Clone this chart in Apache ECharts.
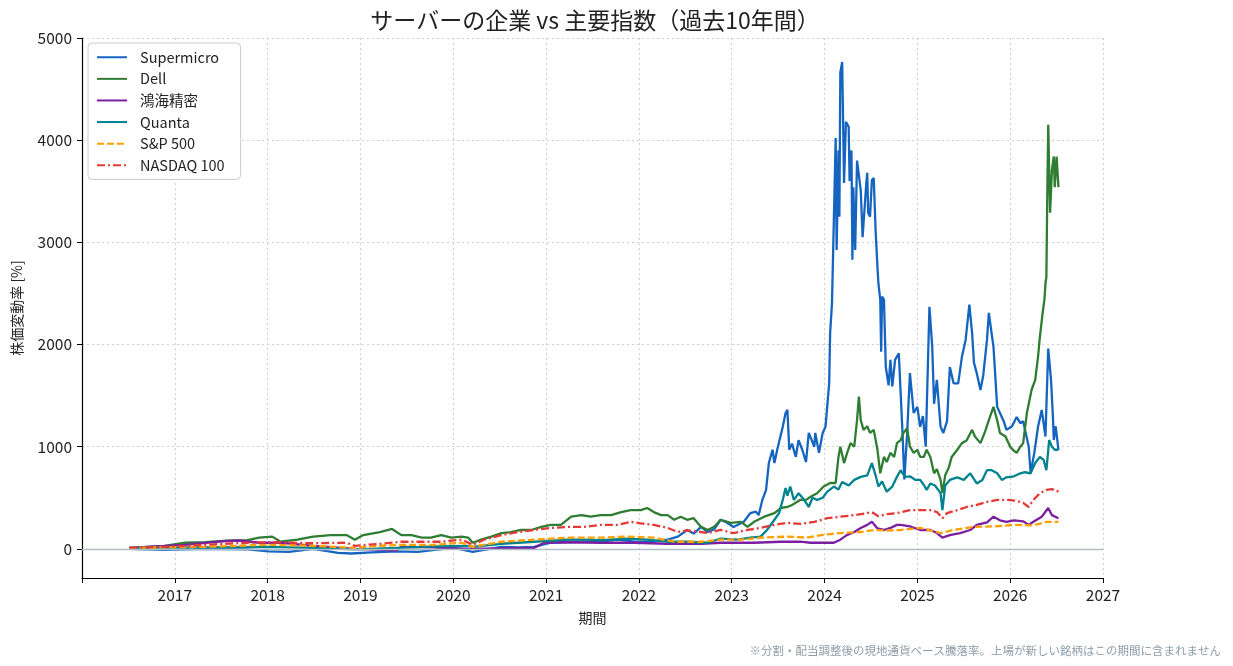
<!DOCTYPE html>
<html><head><meta charset="utf-8">
<script src="https://cdn.jsdelivr.net/npm/echarts@6/dist/echarts.min.js"></script>
<style>html,body{margin:0;padding:0;background:#fff}#c{width:1233px;height:666px}</style>
</head><body><div id="c"></div>
<script>
const seriesNames = ['Supermicro','Dell','鴻海精密','Quanta','S&P 500','NASDAQ 100'];
const xTicks = [2016,2017,2018,2019,2020,2021,2022,2023,2024,2025,2026,2027];
const yTicks = [0,1000,2000,3000,4000,5000];

const supermicro = [[2016.51,0],[2016.89,-10],[2017.33,0],[2017.78,-5],[2018.01,-25],[2018.23,-30],[2018.49,0],[2018.76,-40],[2018.90,-45],[2019.12,-35],[2019.39,-25],[2019.62,-30],[2019.80,-10],[2020.01,10],[2020.21,-30],[2020.33,-10],[2020.52,20],[2020.70,15],[2020.87,20],[2021.05,60],[2021.23,70],[2021.41,70],[2021.59,70],[2021.77,90],[2021.95,70],[2022.13,70],[2022.31,90],[2022.42,120],[2022.52,185],[2022.59,150],[2022.67,215],[2022.74,165],[2022.81,190],[2022.88,285],[2022.95,255],[2023.02,215],[2023.13,265],[2023.20,350],[2023.26,365],[2023.29,330],[2023.33,480],[2023.37,577],[2023.40,840],[2023.44,970],[2023.46,840],[2023.49,970],[2023.55,1195],[2023.58,1330],[2023.60,1360],[2023.62,970],[2023.65,1030],[2023.69,900],[2023.72,1065],[2023.76,970],[2023.80,850],[2023.83,1135],[2023.89,1000],[2023.90,1135],[2023.94,940],[2023.98,1135],[2024.01,1195],[2024.05,1620],[2024.06,2110],[2024.08,2400],[2024.12,4020],[2024.13,2925],[2024.15,3900],[2024.16,3250],[2024.17,4660],[2024.19,4765],[2024.21,3580],[2024.23,4180],[2024.26,4130],[2024.27,3600],[2024.29,3900],[2024.30,2830],[2024.31,3540],[2024.33,2925],[2024.35,3800],[2024.37,3800],[2024.39,3510],[2024.41,3050],[2024.43,3050],[2024.45,3580],[2024.46,3680],[2024.47,3290],[2024.49,3250],[2024.51,3610],[2024.53,3630],[2024.55,3120],[2024.57,2760],[2024.58,2600],[2024.60,2440],[2024.61,1930],[2024.62,2470],[2024.64,2440],[2024.66,1780],[2024.69,1600],[2024.71,1850],[2024.73,1590],[2024.76,1850],[2024.80,1915],[2024.82,1915],[2024.84,1135],[2024.86,680],[2024.89,1135],[2024.92,1720],[2024.96,1330],[2025.00,1390],[2025.03,1195],[2025.06,1300],[2025.09,1000],[2025.13,2370],[2025.16,1980],[2025.18,1420],[2025.21,1655],[2025.25,1195],[2025.28,1135],[2025.32,1250],[2025.35,1780],[2025.39,1620],[2025.44,1620],[2025.48,1880],[2025.52,2045],[2025.56,2390],[2025.59,2110],[2025.61,1820],[2025.64,1720],[2025.68,1555],[2025.71,1700],[2025.75,2045],[2025.77,2310],[2025.80,2110],[2025.82,1980],[2025.86,1390],[2025.89,1330],[2025.93,1250],[2025.96,1165],[2026.02,1200],[2026.07,1290],[2026.11,1230],[2026.14,1250],[2026.20,1000],[2026.22,740],[2026.26,940],[2026.30,1195],[2026.34,1360],[2026.38,1100],[2026.41,1960],[2026.44,1655],[2026.46,1300],[2026.47,1065],[2026.49,1200],[2026.52,970]];

const dell = [[2016.51,10],[2016.89,30],[2017.11,60],[2017.33,65],[2017.56,80],[2017.78,85],[2017.91,110],[2018.05,120],[2018.14,70],[2018.32,90],[2018.49,120],[2018.68,135],[2018.85,135],[2018.94,90],[2019.03,135],[2019.21,165],[2019.34,195],[2019.44,135],[2019.55,135],[2019.66,110],[2019.76,110],[2019.87,135],[2019.98,110],[2020.09,120],[2020.16,110],[2020.21,60],[2020.30,90],[2020.41,120],[2020.52,155],[2020.62,165],[2020.73,185],[2020.84,185],[2020.95,215],[2021.05,235],[2021.16,235],[2021.27,315],[2021.38,330],[2021.48,315],[2021.59,330],[2021.70,330],[2021.81,360],[2021.91,380],[2022.02,380],[2022.09,400],[2022.16,360],[2022.24,330],[2022.31,330],[2022.38,285],[2022.45,315],[2022.52,285],[2022.59,300],[2022.67,215],[2022.74,185],[2022.81,215],[2022.88,285],[2022.99,255],[2023.10,265],[2023.17,215],[2023.24,265],[2023.35,315],[2023.46,350],[2023.53,400],[2023.60,410],[2023.65,430],[2023.74,480],[2023.80,480],[2023.85,510],[2023.92,545],[2023.99,610],[2024.06,645],[2024.12,645],[2024.15,900],[2024.17,1000],[2024.21,840],[2024.24,930],[2024.28,1035],[2024.32,1000],[2024.35,1260],[2024.37,1490],[2024.39,1260],[2024.42,1165],[2024.46,1200],[2024.49,1135],[2024.53,1165],[2024.57,970],[2024.60,740],[2024.64,900],[2024.67,850],[2024.71,940],[2024.75,900],[2024.78,1035],[2024.82,1065],[2024.85,1135],[2024.89,1180],[2024.92,1000],[2024.96,940],[2025.00,970],[2025.03,900],[2025.07,900],[2025.10,970],[2025.14,900],[2025.18,740],[2025.21,780],[2025.25,675],[2025.27,545],[2025.30,720],[2025.34,800],[2025.37,900],[2025.43,970],[2025.48,1035],[2025.53,1060],[2025.59,1165],[2025.62,1100],[2025.68,1035],[2025.73,1150],[2025.77,1260],[2025.82,1390],[2025.86,1260],[2025.89,1135],[2025.95,1100],[2026.00,1000],[2026.04,960],[2026.07,940],[2026.11,1000],[2026.14,1035],[2026.18,1330],[2026.23,1555],[2026.27,1655],[2026.30,1880],[2026.32,2075],[2026.35,2310],[2026.37,2450],[2026.38,2600],[2026.39,2660],[2026.40,3480],[2026.41,4150],[2026.43,3290],[2026.45,3710],[2026.47,3840],[2026.48,3540],[2026.50,3840],[2026.52,3540]];

const foxconn = [[2016.51,10],[2017.11,40],[2017.47,72],[2017.69,82],[2017.91,60],[2018.14,60],[2018.49,30],[2018.94,0],[2019.39,-15],[2019.44,20],[2019.80,15],[2020.16,0],[2020.52,5],[2020.87,10],[2020.98,60],[2021.23,65],[2021.59,60],[2021.95,60],[2022.31,50],[2022.67,50],[2022.88,60],[2023.24,60],[2023.53,70],[2023.74,70],[2023.85,60],[2024.10,60],[2024.17,90],[2024.24,135],[2024.32,165],[2024.39,205],[2024.46,235],[2024.51,265],[2024.57,200],[2024.64,185],[2024.71,205],[2024.78,235],[2024.82,235],[2024.92,220],[2025.03,185],[2025.14,185],[2025.21,155],[2025.27,110],[2025.35,135],[2025.46,155],[2025.57,185],[2025.64,235],[2025.75,260],[2025.82,315],[2025.89,280],[2025.96,265],[2026.04,280],[2026.14,270],[2026.20,235],[2026.25,265],[2026.34,315],[2026.41,400],[2026.45,330],[2026.52,300]];

const quanta = [[2016.51,10],[2017.33,15],[2018.01,20],[2018.49,10],[2018.94,-5],[2019.39,10],[2019.80,25],[2020.16,30],[2020.21,20],[2020.52,50],[2020.87,70],[2021.23,90],[2021.41,90],[2021.59,85],[2021.88,100],[2022.09,90],[2022.31,70],[2022.52,70],[2022.74,60],[2022.88,100],[2023.06,90],[2023.20,110],[2023.31,120],[2023.38,185],[2023.46,285],[2023.51,350],[2023.55,480],[2023.58,595],[2023.60,520],[2023.63,610],[2023.67,480],[2023.72,545],[2023.78,480],[2023.83,410],[2023.87,500],[2023.92,480],[2023.98,500],[2024.03,560],[2024.10,610],[2024.15,580],[2024.19,655],[2024.26,620],[2024.32,675],[2024.39,705],[2024.46,720],[2024.51,840],[2024.55,720],[2024.58,610],[2024.62,660],[2024.67,560],[2024.73,610],[2024.78,705],[2024.82,770],[2024.84,740],[2024.87,705],[2024.92,710],[2024.98,675],[2025.03,675],[2025.07,625],[2025.10,577],[2025.14,640],[2025.19,620],[2025.25,545],[2025.27,380],[2025.30,620],[2025.35,675],[2025.43,700],[2025.50,675],[2025.57,740],[2025.64,640],[2025.70,675],[2025.75,770],[2025.80,770],[2025.86,740],[2025.91,675],[2025.96,700],[2026.04,710],[2026.11,740],[2026.16,750],[2026.22,740],[2026.27,840],[2026.32,900],[2026.36,870],[2026.39,770],[2026.42,1065],[2026.45,1000],[2026.48,970],[2026.52,970]];

const sp500 = [[2016.51,10],[2017.33,20],[2018.01,40],[2018.49,30],[2018.94,10],[2019.21,30],[2019.44,40],[2019.80,40],[2020.09,60],[2020.21,20],[2020.52,70],[2020.87,90],[2021.23,110],[2021.59,110],[2021.88,120],[2022.16,110],[2022.38,70],[2022.67,70],[2022.88,90],[2023.10,90],[2023.31,110],[2023.60,120],[2023.81,110],[2023.96,135],[2024.17,155],[2024.39,165],[2024.53,185],[2024.67,180],[2024.82,185],[2025.03,205],[2025.25,155],[2025.39,185],[2025.61,215],[2025.82,220],[2026.04,235],[2026.22,230],[2026.29,240],[2026.39,265],[2026.52,265]];

const nasdaq100 = [[2016.51,10],[2016.89,20],[2017.33,40],[2017.78,60],[2018.10,65],[2018.49,55],[2018.85,60],[2018.94,30],[2019.21,50],[2019.44,70],[2019.66,70],[2019.87,70],[2020.09,90],[2020.21,40],[2020.33,90],[2020.52,135],[2020.70,165],[2020.87,185],[2021.05,205],[2021.23,215],[2021.41,215],[2021.59,235],[2021.77,235],[2021.91,265],[2022.02,250],[2022.16,235],[2022.31,205],[2022.42,165],[2022.52,180],[2022.63,170],[2022.74,155],[2022.88,185],[2023.02,155],[2023.17,185],[2023.31,205],[2023.46,235],[2023.60,255],[2023.74,245],[2023.89,265],[2024.03,300],[2024.17,315],[2024.32,330],[2024.46,350],[2024.51,360],[2024.58,320],[2024.67,340],[2024.78,350],[2024.92,380],[2025.03,380],[2025.14,380],[2025.21,360],[2025.27,300],[2025.32,350],[2025.43,380],[2025.53,410],[2025.64,430],[2025.75,460],[2025.86,480],[2025.96,480],[2026.07,470],[2026.14,450],[2026.20,410],[2026.25,480],[2026.32,545],[2026.39,577],[2026.45,585],[2026.52,560]];

const FONT = '"Noto Sans CJK JP", "Noto Sans", sans-serif';
const chart = echarts.init(document.getElementById('c'), null, {renderer:'canvas'});
function line(name, data, color, type, extra) {
  return Object.assign({
    name, type:'line', data, symbol:'none', showSymbol:false, animation:false,
    lineStyle:{color, width:2.3, type:type||'solid', cap:'butt'},
    itemStyle:{color}
  }, extra||{});
}
chart.setOption({
  animation:false,
  backgroundColor:'#fff',
  textStyle:{fontFamily:FONT},
  title:{text:'サーバーの企業 vs 主要指数（過去10年間）', left:590, top:4, textAlign:'center',
    textStyle:{fontFamily:FONT, fontSize:23, fontWeight:'normal', color:'#222'}},
  grid:{left:82, right:130, top:38, bottom:88, containLabel:false},
  legend:{orient:'vertical', left:88, top:43, itemWidth:30, itemHeight:14, itemGap:7.1,
    padding:[7,16,7,8], backgroundColor:'rgba(255,255,255,0.85)', borderColor:'#cccccc', borderWidth:1, borderRadius:4,
    itemStyle:{opacity:0, borderWidth:0},
    textStyle:{fontFamily:FONT, fontSize:14.5, color:'#222', padding:[0,0,0,8]},
    data:seriesNames},
  xAxis:{type:'value', min:xTicks[0], max:xTicks[xTicks.length-1], interval:1,
    name:'期間', nameLocation:'middle', nameGap:33, nameTextStyle:{fontFamily:FONT, fontSize:14, color:'#222'},
    axisLine:{show:true, onZero:false, lineStyle:{color:'#000', width:1.2}},
    axisTick:{show:true, length:5, lineStyle:{color:'#000'}},
    axisLabel:{fontFamily:FONT, fontSize:15.5, color:'#222', margin:9,
      formatter:v => (v===xTicks[0] ? '' : String(v))},
    splitLine:{show:true, lineStyle:{color:'#cfcfcf', type:[2,3], width:1}}},
  yAxis:{type:'value', min:-285, max:5000, splitNumber:5,
    name:'株価変動率 [%]', nameLocation:'middle', nameGap:58, nameRotate:90,
    nameTextStyle:{fontFamily:FONT, fontSize:14, color:'#222'},
    axisLine:{show:true, lineStyle:{color:'#000', width:1.2}},
    axisTick:{show:true, length:5, lineStyle:{color:'#000'}, customValues:yTicks},
    axisLabel:{fontFamily:FONT, fontSize:15.5, color:'#222', margin:10, customValues:yTicks,
      formatter:v => String(Math.round(v))},
    splitLine:{show:true, lineStyle:{color:'#cfcfcf', type:[2,3], width:1}}},
  graphic:[{type:'text', right:12, bottom:10,
    style:{text:'※分割・配当調整後の現地通貨ベース騰落率。上場が新しい銘柄はこの期間に含まれません',
      fontFamily:FONT, fontSize:11.5, fill:'#8d9ca8'}}],
  series:[
    line('Supermicro', supermicro, '#1565C0', 'solid', {
      markLine:{silent:true, symbol:'none', animation:false, label:{show:false},
        lineStyle:{color:'#b0bec5', width:1.3, type:'solid'}, data:[{yAxis:0}]}, z:2}),
    line('Dell', dell, '#2E7D32'),
    line('鴻海精密', foxconn, '#7B1FA2'),
    line('Quanta', quanta, '#00838F'),
    line('S&P 500', sp500, '#FFA000', [7,3]),
    line('NASDAQ 100', nasdaq100, '#E53935', [8,3,2,3])
  ]
});
</script></body></html>
